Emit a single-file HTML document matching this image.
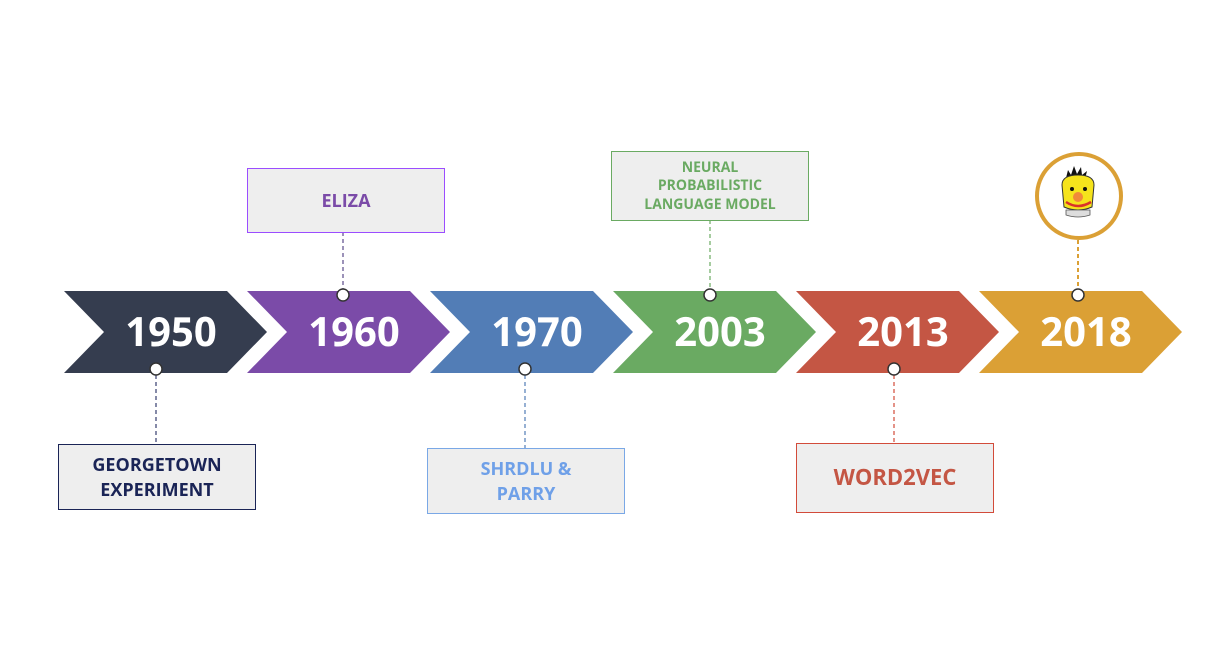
<!DOCTYPE html>
<html><head><style>body{margin:0;background:#fff}</style></head><body>
<svg width="1205" height="663" xmlns="http://www.w3.org/2000/svg" font-family="'Open Sans','Liberation Sans',sans-serif" font-weight="bold">
<g>
<polygon points="64,291 227,291 267,332 227,373 64,373 104,332" fill="#353d4f"/>
<polygon points="247,291 410,291 450,332 410,373 247,373 287,332" fill="#7b4ba8"/>
<polygon points="430,291 593,291 633,332 593,373 430,373 470,332" fill="#527db6"/>
<polygon points="613,291 776,291 816,332 776,373 613,373 653,332" fill="#6aaa62"/>
<polygon points="796,291 959,291 999,332 959,373 796,373 836,332" fill="#c45644"/>
<polygon points="979,291 1142,291 1182,332 1142,373 979,373 1019,332" fill="#dba035"/>
</g>
<g fill="#fff" font-size="40" text-anchor="middle">
<text x="171" y="346">1950</text><text x="354" y="346">1960</text><text x="537" y="346">1970</text>
<text x="720" y="346">2003</text><text x="903" y="346">2013</text><text x="1086" y="346">2018</text>
</g>
<g stroke-dasharray="4,3" stroke-width="1.2">
<line x1="156" y1="375" x2="156" y2="444" stroke="#353d6f"/>
<line x1="343" y1="232" x2="343" y2="289" stroke="#5a4a8a"/>
<line x1="525" y1="375" x2="525" y2="448" stroke="#527db6"/>
<line x1="710" y1="220" x2="710" y2="289" stroke="#6aaa62"/>
<line x1="894" y1="375" x2="894" y2="443" stroke="#d24b3a"/>
<line x1="1078" y1="240" x2="1078" y2="289" stroke="#dba035" stroke-width="2"/>
</g>
<g fill="#fff" stroke="#333" stroke-width="1.5">
<circle cx="156" cy="369" r="6"/><circle cx="343" cy="295" r="6"/><circle cx="525" cy="369" r="6"/>
<circle cx="710" cy="295" r="6"/><circle cx="894" cy="369" r="6"/><circle cx="1078" cy="295" r="6"/>
</g>
<rect x="58.5" y="444.5" width="197" height="65" fill="#eee" stroke="#1a2456"/>
<text x="157" y="471" font-size="18" fill="#1a2456" text-anchor="middle">GEORGETOWN</text>
<text x="157" y="496" font-size="18" fill="#1a2456" text-anchor="middle">EXPERIMENT</text>
<rect x="247.5" y="168.5" width="197" height="64" fill="#eee" stroke="#9b4dff"/>
<text x="346" y="207" font-size="18" fill="#7b4ba8" text-anchor="middle">ELIZA</text>
<rect x="427.5" y="448.5" width="197" height="65" fill="#eee" stroke="#7aa8e6"/>
<text x="526" y="475" font-size="18" fill="#6fa0e8" text-anchor="middle">SHRDLU &amp;</text>
<text x="526" y="500" font-size="18" fill="#6fa0e8" text-anchor="middle">PARRY</text>
<rect x="611.5" y="151.5" width="197" height="69" fill="#eee" stroke="#6aaa62"/>
<g font-size="14" fill="#6aaa62" text-anchor="middle">
<text x="710" y="172">NEURAL</text><text x="710" y="190">PROBABILISTIC</text><text x="710" y="209">LANGUAGE MODEL</text></g>
<rect x="796.5" y="443.5" width="197" height="69" fill="#eee" stroke="#d24b3a"/>
<text x="895" y="485" font-size="22" fill="#c45644" text-anchor="middle">WORD2VEC</text>
<circle cx="1079" cy="196" r="42" fill="#fff" stroke="#dba035" stroke-width="4"/>
<path d="M1066,178 l2,-8 l3,5 l3,-9 l3,8 l4,-7 l1,8 l5,-4 l-2,8 z" fill="#111"/>
<path d="M1062,185 q0,-10 16,-10 q16,0 16,10 l-2,22 q-14,6 -28,0 z" fill="#f5e31c" stroke="#333" stroke-width="1"/>
<path d="M1066,210 h24 v5 q-12,4 -24,0 z" fill="#ddd" stroke="#555" stroke-width="0.8"/>
<circle cx="1072" cy="189" r="2" fill="#111"/><circle cx="1085" cy="189" r="2" fill="#111"/>
<circle cx="1078" cy="197" r="5" fill="#f08a3a"/>
<path d="M1066,202 q12,8 25,0" stroke="#d9322a" stroke-width="2.5" fill="none"/>
</svg>
</body></html>
